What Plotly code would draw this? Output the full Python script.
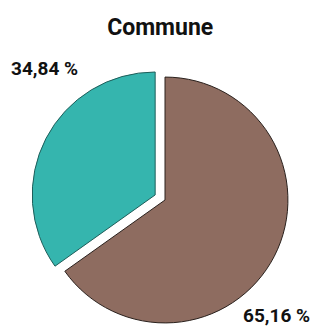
import plotly.graph_objects as go

labels = ["Autre", "Commune"]
values = [65.16, 34.84]
value_texts = ["65,16 %", "34,84 %"]
colors = ["#8e6c60", "#35b5ae"]
pulls = [0, 0.09]

W, H = 311, 340
FONT = "Roboto, sans-serif"

fig = go.Figure()
fig.add_trace(go.Pie(
    labels=labels,
    values=values,
    sort=False,
    direction="clockwise",
    rotation=0,
    pull=pulls,
    textinfo="none",
    hoverinfo="label+percent",
    marker=dict(colors=colors, line=dict(color=["#2a211d", "#1f5e5a"], width=1)),
    showlegend=False,
))

fig.add_annotation(x=44, y=68, xref="paper", yref="paper", text="<b>" + value_texts[1] + "</b>",
                   showarrow=False, font=dict(size=19, color="#111111", family=FONT))
fig.add_annotation(x=276, y=315, xref="paper", yref="paper", text="<b>" + value_texts[0] + "</b>",
                   showarrow=False, font=dict(size=19, color="#111111", family=FONT))

fig.update_layout(
    width=W, height=H,
    margin=dict(l=31, r=12, t=66, b=H - 66 - 268),
    paper_bgcolor="white",
    title=dict(text="<b>Commune</b>", x=0.515, xanchor="center", y=1 - 27 / H, yanchor="middle",
               font=dict(size=23, color="#111111", family=FONT)),
)

pw = W - 31 - 12
ph = 268
for a in fig.layout.annotations:
    a.x = (a.x - 31) / pw
    a.y = 1 - (a.y - 66) / ph
    a.xanchor = "center"
    a.yanchor = "middle"

fig.write_html("out.html", config={"displayModeBar": False},
               post_script="document.body.style.margin='0';document.body.style.overflow='hidden';")
